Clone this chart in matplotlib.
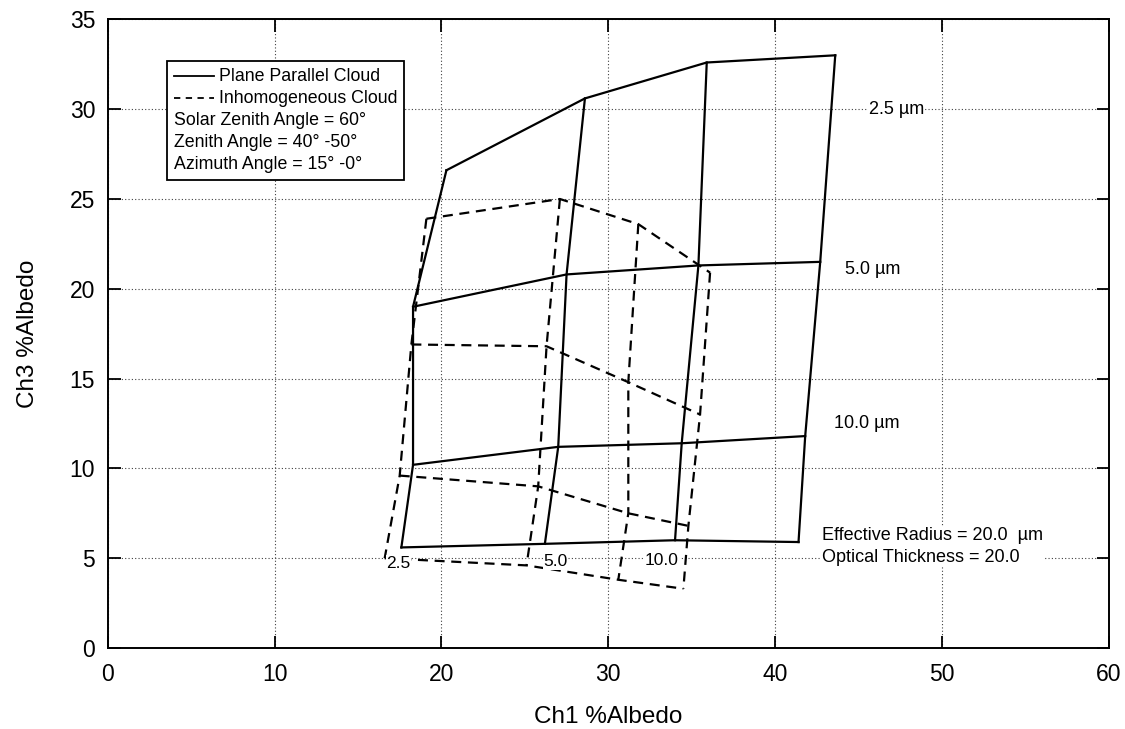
import numpy as np
import matplotlib
matplotlib.use('Agg')
import matplotlib.pyplot as plt
from matplotlib.lines import Line2D
from matplotlib.offsetbox import AnchoredOffsetbox, VPacker, HPacker, TextArea, DrawingArea

plt.rcParams['font.family'] = ['Liberation Sans', 'DejaVu Sans']

# ------------------------------------------------------------------
# data: rows = effective radius, columns = optical thickness
# ------------------------------------------------------------------
radius = [2.5, 5.0, 10.0, 20.0]
tau = [2.5, 5.0, 10.0, 20.0]

# plane parallel cloud (solid)
pp_ch1 = np.array([[20.3, 28.6, 35.9, 43.6],
                   [18.3, 27.5, 35.4, 42.7],
                   [18.3, 27.0, 34.4, 41.8],
                   [17.6, 26.2, 34.0, 41.4]])
pp_ch3 = np.array([[26.6, 30.6, 32.6, 33.0],
                   [19.0, 20.8, 21.3, 21.5],
                   [10.2, 11.2, 11.4, 11.8],
                   [5.6, 5.8, 6.0, 5.9]])

# inhomogeneous cloud (dashed)
ih_ch1 = np.array([[19.1, 27.1, 31.8, 36.1],
                   [18.2, 26.3, 31.2, 35.5],
                   [17.5, 25.8, 31.2, 34.8],
                   [16.6, 25.1, 30.6, 34.5]])
ih_ch3 = np.array([[23.9, 25.0, 23.6, 20.9],
                   [16.9, 16.8, 14.8, 13.0],
                   [9.6, 9.0, 7.5, 6.8],
                   [5.0, 4.6, 3.8, 3.3]])

legend_lines = ["Plane Parallel Cloud", "Inhomogeneous Cloud"]
legend_notes = ["Solar Zenith Angle = 60\u00b0",
                "Zenith Angle = 40\u00b0 -50\u00b0",
                "Azimuth Angle = 15\u00b0 -0\u00b0"]

# ------------------------------------------------------------------
# figure
# ------------------------------------------------------------------
fig = plt.figure(figsize=(11.25, 7.29), dpi=100)
ax = fig.add_axes([0.0957, 0.1111, 0.890, 0.8623])

LW = 1.6
DASH = (0, (4.5, 3.0))
for i in range(len(radius)):
    ax.plot(pp_ch1[i], pp_ch3[i], color='k', lw=LW, zorder=3)
    ax.plot(ih_ch1[i], ih_ch3[i], color='k', lw=LW, linestyle=DASH, zorder=3)
for j in range(len(tau)):
    ax.plot(pp_ch1[:, j], pp_ch3[:, j], color='k', lw=LW, zorder=3)
    ax.plot(ih_ch1[:, j], ih_ch3[:, j], color='k', lw=LW, linestyle=DASH, zorder=3)

ax.set_xlim(0, 60)
ax.set_ylim(0, 35)
ax.set_xticks(np.arange(0, 61, 10))
ax.set_yticks(np.arange(0, 36, 5))
ax.grid(True, color='0.25', linestyle=(0, (1, 2)), lw=0.8, zorder=0)
ax.tick_params(direction='in', length=9, width=1.3, top=True, right=True,
               labelsize=16.5)
ax.tick_params(axis='x', pad=11)
ax.tick_params(axis='y', pad=9)
for sp in ax.spines.values():
    sp.set_linewidth(1.4)

ax.set_xlabel("Ch1 %Albedo", fontsize=17.5, labelpad=14)
ax.set_ylabel("Ch3 %Albedo", fontsize=17.5, labelpad=22)

# radius labels
wbox = dict(facecolor='white', edgecolor='none', pad=0.5)
ax.text(45.6, 30.0, "2.5 \u00b5m", fontsize=13, va='center', bbox=wbox, zorder=4)
ax.text(44.2, 21.1, "5.0 \u00b5m", fontsize=13, va='center', bbox=wbox, zorder=4)
ax.text(43.5, 12.5, "10.0 \u00b5m", fontsize=13, va='center', bbox=wbox, zorder=4)
ax.text(42.8, 5.65, "Effective Radius = 20.0  \u00b5m\nOptical Thickness = 20.0",
        fontsize=13, va='center', linespacing=1.45, bbox=wbox, zorder=4)

# optical thickness labels
for t, x, y in zip(tau[:3], [16.7, 26.1, 32.2], [4.7, 4.8, 4.9]):
    ax.text(x, y, f"{t:.1f}", fontsize=12.5, va='center', bbox=wbox, zorder=4)

# legend box
fp = dict(fontfamily='Liberation Sans', fontsize=12.8)


def key(ls):
    da = DrawingArea(29, 9, 0, 0)
    da.add_artist(Line2D([0, 29], [4.5, 4.5], color='k', lw=1.3, linestyle=ls))
    return da


rows = [HPacker(children=[key('-'), TextArea(legend_lines[0], textprops=fp)],
                sep=3.6, align='center'),
        HPacker(children=[key((0, (3.5, 3.0))), TextArea(legend_lines[1], textprops=fp)],
                sep=3.6, align='center')]
rows += [TextArea(s, textprops=fp) for s in legend_notes]
vp = VPacker(children=rows, sep=3.6, pad=5, align='left')
ab = AnchoredOffsetbox(loc='upper left', child=vp, pad=0, borderpad=0, frameon=True,
                       bbox_to_anchor=(0.059, 0.934), bbox_transform=ax.transAxes)
ab.patch.set_boxstyle("square,pad=0")
ab.patch.set_linewidth(1.3)
ab.patch.set_edgecolor('k')
ab.set_zorder(5)
ax.add_artist(ab)

plt.savefig("out.png", dpi=100)
